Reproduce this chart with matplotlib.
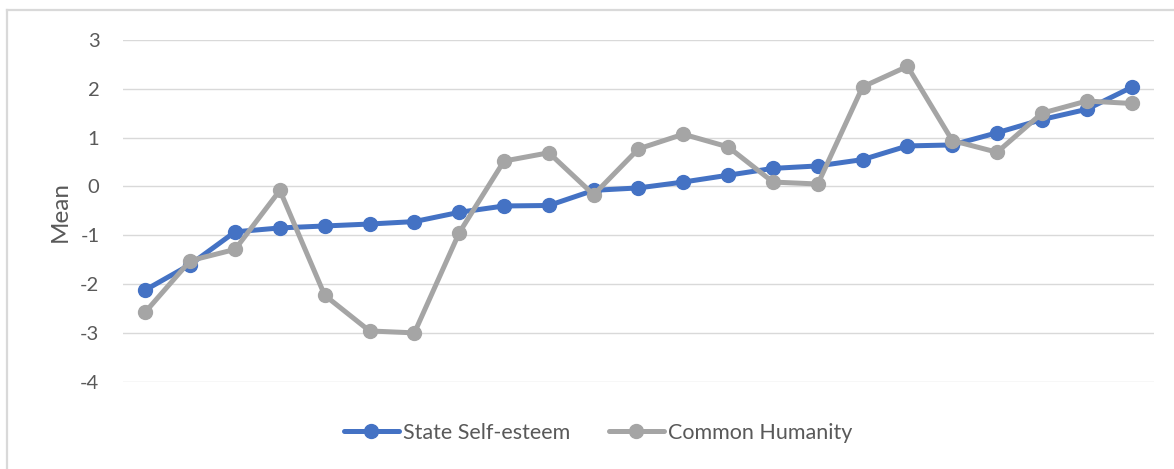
import matplotlib
matplotlib.use("Agg")
import matplotlib.pyplot as plt
from matplotlib.lines import Line2D

# Mean scores for 23 ordered participants/groups
positions = list(range(1, 24))
state_self_esteem = [-2.12, -1.60, -0.93, -0.85, -0.81, -0.77, -0.72, -0.53, -0.40, -0.39,
                     -0.08, -0.03, 0.09, 0.23, 0.37, 0.42, 0.55, 0.83, 0.85, 1.10,
                     1.37, 1.58, 2.03]
common_humanity = [-2.57, -1.52, -1.29, -0.08, -2.23, -2.96, -3.00, -0.95, 0.52, 0.69,
                   -0.17, 0.77, 1.07, 0.81, 0.09, 0.05, 2.04, 2.46, 0.94, 0.70,
                   1.50, 1.75, 1.70]
series_names = ["State Self-esteem", "Common Humanity"]
y_ticks = [-4, -3, -2, -1, 0, 1, 2, 3]

BLUE = "#4472C4"
GREY = "#A5A5A5"
GRID = "#D9D9D9"
TEXT = "#595959"

plt.rcParams["font.family"] = ["Lato", "DejaVu Sans"]
plt.rcParams["axes.unicode_minus"] = False

W, H = 1174, 469
fig = plt.figure(figsize=(W / 100, H / 100), dpi=100)

# Outer chart frame (only left and top edges fall inside the image)
fig.add_artist(Line2D([7 / W, 7 / W], [0, 1 - 10.5 / H], transform=fig.transFigure,
                      color=GRID, lw=1.6))
fig.add_artist(Line2D([7 / W, 1], [1 - 10.5 / H, 1 - 10.5 / H], transform=fig.transFigure,
                      color=GRID, lw=1.6))

left, right, top, bottom = 123, 1154, 40, 381.7
ax = fig.add_axes([left / W, 1 - bottom / H, (right - left) / W, (bottom - top) / H])

ax.plot(positions, state_self_esteem, color=BLUE, lw=3.6, marker="o", ms=10,
        solid_capstyle="round", solid_joinstyle="round", zorder=3, label=series_names[0])
ax.plot(positions, common_humanity, color=GREY, lw=3.6, marker="o", ms=10,
        solid_capstyle="round", solid_joinstyle="round", zorder=4, label=series_names[1])

ax.set_xlim(0.5, 23.5)
ax.set_ylim(-4, 3)
ax.set_yticks(y_ticks)
ax.set_xticks([])
ax.yaxis.grid(True, color=GRID, lw=1.0)
ax.set_axisbelow(True)
for s in ax.spines.values():
    s.set_visible(False)
ax.tick_params(axis="y", length=0, pad=17, labelsize=14.5, labelcolor=TEXT)

fig.text(60 / W, 1 - 211 / H, "Mean", rotation=90, ha="center", va="center",
         fontsize=17.5, color=TEXT)

fig.legend(loc="center", bbox_to_anchor=(598 / W, 1 - 433 / H), ncol=2, frameon=False,
           fontsize=15.5, handlelength=2.55, handletextpad=0.19, columnspacing=1.8,
           labelcolor=TEXT, markerscale=1.0)

fig.savefig("out.png", dpi=100)
